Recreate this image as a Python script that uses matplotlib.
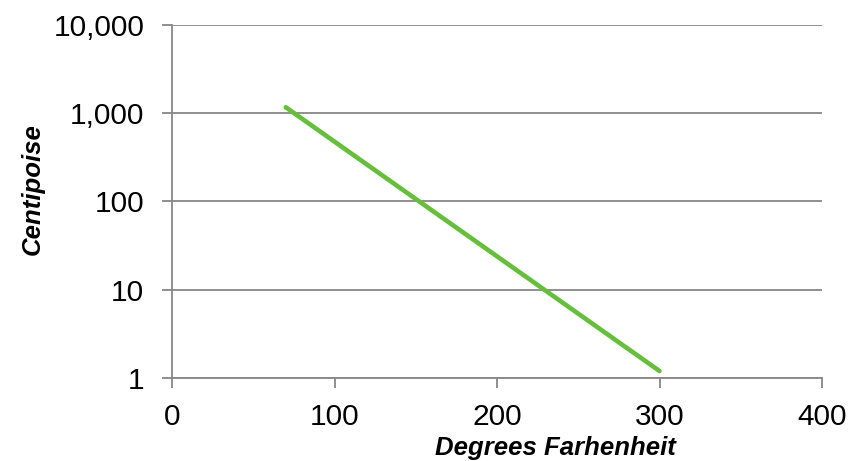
import matplotlib.pyplot as plt
from matplotlib.ticker import FuncFormatter

# data
temperature_f = [70, 300]
viscosity_cp = [1170, 1.2]

x_ticks = [0, 100, 200, 300, 400]
y_ticks = [1, 10, 100, 1000, 10000]

plt.rcParams['font.family'] = ['Liberation Sans', 'DejaVu Sans']

fig = plt.figure(figsize=(8.6, 4.61), dpi=100)
ax = fig.add_axes([172 / 860, 83 / 461, 650 / 860, 353 / 461])

ax.plot(temperature_f, viscosity_cp, color='#66bf3a', linewidth=3.3,
        solid_capstyle='round')

ax.set_yscale('log')
ax.set_ylim(1, 10000)
ax.set_xlim(0, 400)
ax.set_xticks(x_ticks)
ax.set_yticks(y_ticks)
ax.yaxis.set_minor_locator(plt.NullLocator())
ax.yaxis.set_major_formatter(FuncFormatter(lambda v, p: f'{v:,.0f}'))

ax.grid(True, axis='y', color='#878787', linewidth=1.3)
ax.set_axisbelow(True)

for side in ['top', 'right']:
    ax.spines[side].set_visible(False)
for side in ['left', 'bottom']:
    ax.spines[side].set_color('#878787')
    ax.spines[side].set_linewidth(1.3)

ax.tick_params(axis='both', colors='#878787', length=7, width=1.3,
               labelsize=21.5, labelcolor='black')
ax.tick_params(axis='x', pad=11)
ax.tick_params(axis='y', pad=13)

ax.set_xlabel('Degrees Farhenheit', fontsize=18.5, fontweight='bold',
              fontstyle='italic', va='baseline')
ax.xaxis.set_label_coords(555 / 860, 1 - 455 / 461, transform=fig.transFigure)

ax.set_ylabel('Centipoise', fontsize=18.5, fontweight='bold',
              fontstyle='italic', va='center')
ax.yaxis.set_label_coords(33 / 860, 1 - 189 / 461, transform=fig.transFigure)

plt.savefig('out.png', dpi=100)
